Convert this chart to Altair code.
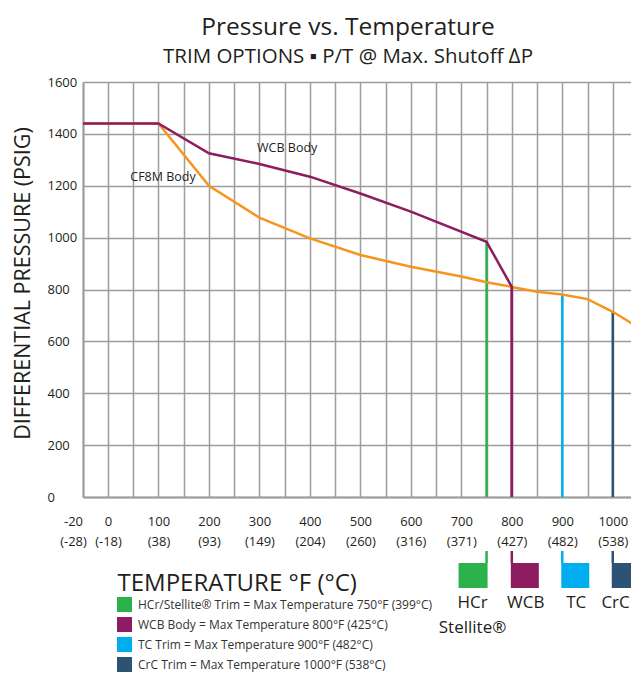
import altair as alt
import pandas as pd

# ---------------- data ----------------
title_line1 = "Pressure vs. Temperature"
title_line2 = "TRIM OPTIONS \u25aa P/T @ Max. Shutoff \u2206P"
y_title = "DIFFERENTIAL PRESSURE (PSIG)"
x_title = "TEMPERATURE \u00b0F (\u00b0C)"

cf8m_temp = [-20, 100, 200, 300, 400, 500, 600, 700, 750, 800, 850, 900, 950, 1000, 1050]
cf8m_psi = [1440, 1440, 1200, 1077, 997, 933, 888, 850, 828, 810, 791, 781, 763, 714, 655]

wcb_temp = [-20, 100, 200, 300, 400, 500, 600, 750, 800, 800]
wcb_psi = [1440, 1440, 1325, 1284, 1235, 1170, 1100, 984, 810, 0]

trim_names = [
    "HCr/Stellite\u00ae Trim = Max Temperature 750\u00b0F (399\u00b0C)",
    "WCB Body = Max Temperature 800\u00b0F (425\u00b0C)",
    "TC Trim = Max Temperature 900\u00b0F (482\u00b0C)",
    "CrC Trim = Max Temperature  1000\u00b0F (538\u00b0C)",
]
trim_short = ["HCr\nStellite\u00ae", "WCB", "TC", "CrC"]
trim_temp = [750, 800, 900, 1000]
trim_top = [984, 810, 781, 714]
trim_colors = ["#2BB24C", "#8E1C61", "#00AEEF", "#2C5274"]

tick_f = [-20, 0, 100, 200, 300, 400, 500, 600, 700, 800, 900, 1000]
tick_c = ["(-28)", "(-18)", "(38)", "(93)", "(149)", "(204)", "(260)", "(316)",
          "(371)", "(427)", "(482)", "(538)"]
grid_f = [-20] + list(range(0, 1051, 50))
y_ticks = list(range(0, 1601, 200))

annot_text = ["WCB Body", "CF8M Body"]
annot_temp = [355, 109]
annot_psi = [1345, 1234]

# ---------------- tables ----------------
cf8m = pd.DataFrame({"temp": cf8m_temp, "psi": cf8m_psi})
wcb = pd.DataFrame({"temp": wcb_temp, "psi": wcb_psi, "idx": range(len(wcb_temp))})
trims = pd.DataFrame({"temp": trim_temp, "psi": trim_top, "trim": trim_names,
                      "line": trim_names, "short": trim_short})
annots = pd.DataFrame({"temp": annot_temp, "psi": annot_psi, "text": annot_text})

FONT = "Open Sans"
TXT = "#231F20"
GRID = "#9D9D9D"

label_expr = "''"
for f, c in reversed(list(zip(tick_f, tick_c))):
    label_expr = f"datum.value == {f} ? ['{f}', '{c}'] : " + label_expr

xscale = alt.Scale(domain=[-20, 0, 1050], range=[0, 25, 555], nice=False, zero=False)
yscale = alt.Scale(domain=[0, 1600], nice=False, zero=True)

xaxis = alt.Axis(
    values=grid_f, labelExpr=label_expr, ticks=False, tickSize=0,
    labelPadding=18, labelLineHeight=20, labelFontSize=13, labelFont=FONT,
    labelColor=TXT, labelOverlap=False, labelFlush=False,
    labelOffset={"condition": {"test": "datum.value == -20", "value": -10}, "value": 0},
    grid=True, gridColor=GRID, gridWidth=1.5,
    domainColor=GRID, domainWidth=2,
    title=x_title, titleFont=FONT, titleFontSize=24, titleFontWeight="normal",
    titleColor=TXT, titleX=34, titleY=93, titleAlign="left", titleBaseline="alphabetic",
)
yaxis = alt.Axis(
    values=y_ticks, format="d", ticks=False, tickSize=0, labelAlign="left", labelPadding=36,
    labelFontSize=13, labelFont=FONT, labelColor=TXT,
    grid=True, gridColor=GRID, gridWidth=1.5,
    domainColor=GRID, domainWidth=2,
    title=y_title, titleFont=FONT, titleFontSize=21.5, titleFontWeight="normal",
    titleColor=TXT, titleX=-60, titleY=201, titleAngle=270, titleAlign="center",
    titleBaseline="middle",
)

X = alt.X("temp:Q", scale=xscale, axis=xaxis)
Y = alt.Y("psi:Q", scale=yscale, axis=yaxis)

stroke_scale = alt.Scale(domain=trim_names, range=trim_colors)
color_scale = alt.Scale(domain=trim_names, range=trim_colors)
legend = alt.Legend(
    orient="none", legendX=34, legendY=515, direction="vertical", title=None,
    symbolType="square", symbolSize=225, symbolStrokeWidth=0, rowPadding=5,
    labelOffset=6, labelFontSize=12, labelFont=FONT, labelColor="#333333",
    labelLimit=500, padding=0,
)

rules = alt.Chart(trims).mark_rule(strokeWidth=2.5).encode(
    x=X, y=Y, y2=alt.Y2(datum=0),
    stroke=alt.Stroke("line:N", scale=stroke_scale, legend=None),
)
orange = alt.Chart(cf8m).mark_line(color="#F7941D", strokeWidth=2.5).encode(x=X, y=Y)
purple = alt.Chart(wcb).mark_line(color="#8E1C61", strokeWidth=2.5).encode(
    x=X, y=Y, order=alt.Order("idx:Q"))
notes = alt.Chart(annots).mark_text(font=FONT, fontSize=12.5, color=TXT).encode(
    x=X, y=Y, text="text:N")

connectors = alt.Chart(trims).mark_rule(strokeWidth=2.5).encode(
    x=X, y=alt.value(469), y2=alt.value(481),
    stroke=alt.Stroke("line:N", scale=stroke_scale, legend=None),
)
sw_left = alt.Chart(trims).transform_filter(alt.datum.trim == trim_names[0]).mark_rect(
    xOffset=-28, x2Offset=1).encode(
    x=X, x2=alt.X2("temp:Q"), y=alt.value(481), y2=alt.value(506),
    color=alt.Color("trim:N", scale=color_scale, legend=legend),
)
sw_right = alt.Chart(trims).transform_filter(alt.datum.trim != trim_names[0]).mark_rect(
    xOffset=-1, x2Offset=27).encode(
    x=X, x2=alt.X2("temp:Q"), y=alt.value(481), y2=alt.value(506),
    color=alt.Color("trim:N", scale=color_scale, legend=legend),
)
lab_left = alt.Chart(trims).transform_filter(alt.datum.trim == trim_names[0]).mark_text(
    dx=-14, font=FONT, fontSize=17, color=TXT, lineBreak="\n", lineHeight=25,
    baseline="alphabetic").encode(x=X, y=alt.value(526), text="short:N")
lab_mid = alt.Chart(trims).transform_filter(
    (alt.datum.trim == trim_names[1]) | (alt.datum.trim == trim_names[2])).mark_text(
    dx=14, font=FONT, fontSize=17, color=TXT, baseline="alphabetic").encode(
    x=X, y=alt.value(526), text="short:N")
lab_last = alt.Chart(trims).transform_filter(alt.datum.trim == trim_names[3]).mark_text(
    dx=17, align="right", font=FONT, fontSize=17, color=TXT, baseline="alphabetic").encode(
    x=X, y=alt.value(526), text="short:N")

chart = alt.layer(
    sw_left, sw_right, rules, orange, purple, notes, connectors, lab_left, lab_mid, lab_last
).properties(
    width=548, height=415,
    autosize=alt.AutoSizeParams(type="none"),
    padding={"left": 75, "top": 74, "right": 0, "bottom": 176},
    title=alt.TitleParams(
        text=title_line1, subtitle=title_line2, font=FONT, fontSize=24.5,
        fontWeight="normal", color=TXT, subtitleFont=FONT, subtitleFontSize=20.5,
        subtitleColor=TXT, subtitleFontWeight="normal", subtitlePadding=6,
        anchor="middle", frame="group", dx=-9, offset=8,
    ),
).configure_view(strokeWidth=0).configure(font=FONT)

chart.save("out.html", embed_options={"renderer": "svg", "actions": False})
